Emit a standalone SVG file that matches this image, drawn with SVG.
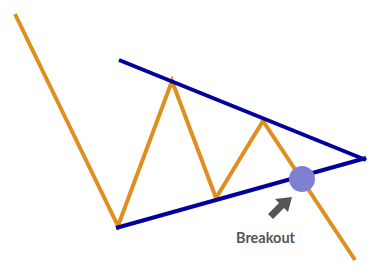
<svg xmlns="http://www.w3.org/2000/svg" width="377" height="275" viewBox="0 0 377 275">
<style>
.price{fill:none;stroke:#e08e1e;stroke-width:4;stroke-linejoin:miter}
.trend{fill:none;stroke:#00009c;stroke-width:4;stroke-linecap:butt}
.lbl{font-family:Lato,"DejaVu Sans",sans-serif;font-weight:bold;font-size:15px;fill:#555}
</style>
<rect width="377" height="275" fill="#fff"/>
<g id="connectors">
<polyline id="price" class="price" points="15,14 118,226 172,81 216,198 263,121 355,260"/>
<line class="trend" x1="119" y1="60" x2="366" y2="160"/>
<line class="trend" x1="116" y1="228" x2="366" y2="158"/>
</g>
<g id="breakout">
<circle cx="302" cy="179" r="13" fill="#8080d2"/>
<polygon points="292,197 288,212 284,208 273,219 268,214 279,203 275,199" fill="#555"/>
<text class="lbl" x="236" y="243" textLength="59" lengthAdjust="spacingAndGlyphs">Breakout</text>
</g>
</svg>
